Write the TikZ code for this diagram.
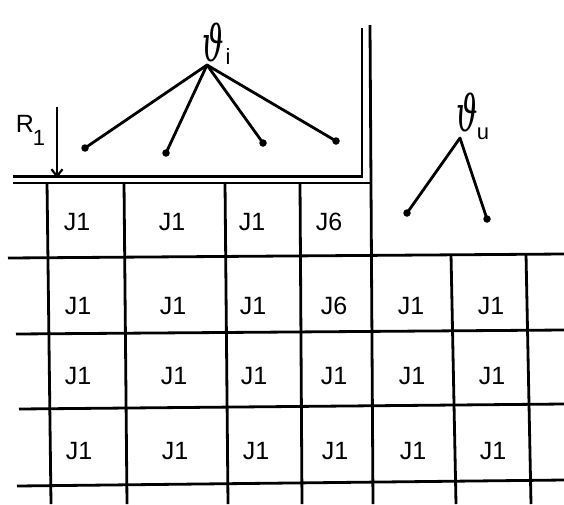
\documentclass[tikz,border=0pt]{standalone}
\usepackage{fontspec}
\setmainfont{Liberation Sans}
\newfontfamily\thfont{DejaVu Serif}
\usetikzlibrary{arrows.meta}
\begin{document}
\begin{tikzpicture}[x=1pt,y=-1pt,
  gridline/.style={line width=2.8pt},
  branch/.style={line width=2.8pt, line cap=round},
  lbl/.style={inner sep=0pt, font=\fontsize{25}{28}\selectfont},
  sub/.style={inner sep=0pt, font=\fontsize{22}{24}\selectfont},
  leaf/.style={circle, fill, inner sep=0pt, minimum size=7.5pt},
  theta/.style={inner sep=0pt, font=\thfont\itshape\fontsize{50}{54}\selectfont}]
\useasboundingbox (0,0) rectangle (564,504);
% double wall
\draw[gridline] (13,176.5) -- (362,176.5) -- (362,28);
\draw[gridline] (13,183) -- (370,183);
\draw[gridline] (370,25) -- (373,504);
% horizontal grid lines
\draw[gridline] (8,258) -- (564,254);
\draw[gridline] (16,334) -- (564,330);
\draw[gridline] (19,409) -- (564,404);
\draw[gridline] (17,486) -- (564,480);
% vertical grid lines
\draw[gridline] (47,182) -- (51,504);
\draw[gridline] (124,182) -- (127,504);
\draw[gridline] (225,182) -- (228,504);
\draw[gridline] (300,182) -- (302,504);
\draw[gridline] (451,254) -- (456,504);
\draw[gridline] (526,254) -- (531,504);
% cell labels
\foreach \x/\t [count=\k] in {77/J1,172/J1,252/J1,329/J6}
  \node[lbl] (a\k) at (\x,222) {\t};
\foreach \x/\t [count=\k] in {78/J1,173/J1,253/J1,334/J6,411/J1,491/J1}
  \node[lbl] (b\k) at (\x,306) {\t};
\foreach \x/\t [count=\k] in {78/J1,174/J1,254/J1,334/J1,412/J1,492/J1}
  \node[lbl] (c\k) at (\x,376) {\t};
\foreach \x/\t [count=\k] in {79/J1,175/J1,256/J1,335/J1,413/J1,493/J1}
  \node[lbl] (d\k) at (\x,451) {\t};
% R1 arrow
\node[lbl, anchor=base] (R) at (25,132) {R};
\node[sub, anchor=base] (Rs) at (39,145) {1};
\coordinate (rtop) at (57,107);
\coordinate (rbot) at (57,178);
\draw[line width=2.2pt, -{Straight Barb[length=7pt,width=11pt,line width=2.2pt]}] (rtop) -- (rbot);
% theta_i tree
\node[theta] (thi) at (213,42) {\scalebox{0.6}[1]{ϑ}};
\node[sub] (thisub) at (228,57) {i};
\coordinate (ti) at (207,65);
\node[leaf] (i1) at (85,148) {};
\node[leaf] (i2) at (166,153) {};
\node[leaf] (i3) at (263,143) {};
\node[leaf] (i4) at (336,141) {};
\foreach \n in {i1,i2,i3,i4} \draw[branch] (ti) -- (\n.center);
% theta_u tree
\node[theta] (thu) at (467,112) {\scalebox{0.6}[1]{ϑ}};
\node[sub] (thusub) at (483,134) {u};
\coordinate (tu) at (460,138);
\node[leaf] (u1) at (407,213) {};
\node[leaf] (u2) at (487,219) {};
\foreach \n in {u1,u2} \draw[branch] (tu) -- (\n.center);
\end{tikzpicture}
\end{document}
